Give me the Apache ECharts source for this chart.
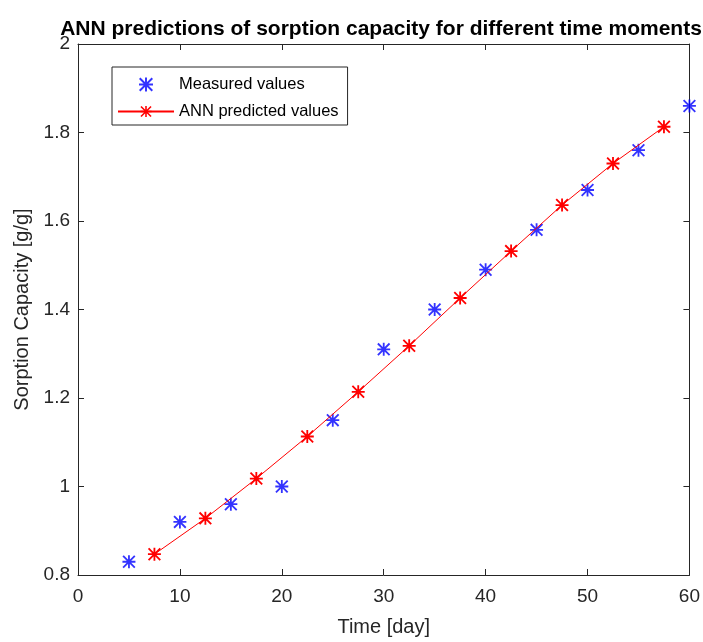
<!DOCTYPE html>
<html>
<head>
<meta charset="utf-8">
<title>ANN predictions of sorption capacity</title>
<script src="https://cdn.jsdelivr.net/npm/echarts@6/dist/echarts.min.js"></script>
<style>
  html, body { margin: 0; padding: 0; background: #fff; }
  #chart { width: 703px; height: 642px; }
</style>
</head>
<body>
<div id="chart"></div>
<script>
// measured values (every 5 days)
const measuredDays = [5, 10, 15, 20, 25, 30, 35, 40, 45, 50, 55, 60];
const measuredValues = [0.83, 0.92, 0.96, 1.00, 1.15, 1.31, 1.40, 1.49, 1.58, 1.67, 1.76, 1.86];

// ANN predictions (mid points)
const predictedDays = [7.5, 12.5, 17.5, 22.5, 27.5, 32.5, 37.5, 42.5, 47.5, 52.5, 57.5];
const predictedValues = [0.847, 0.928, 1.018, 1.113, 1.214, 1.318, 1.426, 1.532, 1.636, 1.730, 1.813];

const FONT = '"Liberation Sans", Arial, sans-serif';
const AXIS_COLOR = '#262626';

// asterisk marker (like matlab '*')
const STAR = 'path://M8.6 0L11.4 0L11.4 20L8.6 20Z M0 8.6L20 8.6L20 11.4L0 11.4Z ' +
  'M2 0L20 18L18 20L0 2Z M18 0L20 2L2 20L0 18Z';

const pairs = (xs, ys) => xs.map((x, i) => [x, ys[i]]);

const chart = echarts.init(document.getElementById('chart'));

const baseAxis = {
  axisLine: { show: true, onZero: false, lineStyle: { color: AXIS_COLOR, width: 1 } },
  axisTick: { show: true, inside: true, length: 6, lineStyle: { color: AXIS_COLOR } },
  splitLine: { show: false },
};

chart.setOption({
  animation: false,
  backgroundColor: '#fff',
  title: {
    text: 'ANN predictions of sorption capacity for different time moments',
    left: 376,
    textAlign: 'center',
    top: 14,
    textStyle: { fontFamily: FONT, fontWeight: 'bold', fontSize: 21, color: '#000' }
  },
  legend: {
    orient: 'vertical',
    left: 112,
    top: 67,
    padding: [9, 9, 5, 5],
    itemGap: 10,
    itemWidth: 56,
    itemHeight: 14,
    borderColor: '#262626',
    borderWidth: 1,
    textStyle: { fontFamily: FONT, fontSize: 16.5, color: '#000' },
    data: ['Measured values', 'ANN predicted values']
  },
  grid: { left: 78, right: 13, top: 44, bottom: 65, containLabel: false },
  xAxis: [
    Object.assign({}, baseAxis, {
      type: 'value', min: 0, max: 60, interval: 10, position: 'bottom',
      name: 'Time [day]', nameLocation: 'middle', nameGap: 42,
      nameTextStyle: { fontFamily: FONT, fontSize: 20, color: AXIS_COLOR },
      axisLabel: { fontFamily: FONT, fontSize: 19, color: AXIS_COLOR, margin: 12 }
    }),
    Object.assign({}, baseAxis, {
      type: 'value', min: 0, max: 60, interval: 10, position: 'top',
      axisLabel: { show: false }
    })
  ],
  yAxis: [
    Object.assign({}, baseAxis, {
      type: 'value', min: 0.8, max: 2, interval: 0.2, position: 'left',
      name: 'Sorption Capacity [g/g]', nameLocation: 'middle', nameGap: 42,
      nameTextStyle: { fontFamily: FONT, fontSize: 20, color: AXIS_COLOR },
      axisLabel: {
        fontFamily: FONT, fontSize: 19, color: AXIS_COLOR, margin: 8,
        formatter: v => String(+v.toFixed(1))
      }
    }),
    Object.assign({}, baseAxis, {
      type: 'value', min: 0.8, max: 2, interval: 0.2, position: 'right',
      axisLabel: { show: false }
    })
  ],
  series: [
    {
      name: 'Measured values',
      type: 'scatter',
      symbol: STAR,
      symbolSize: 13,
      itemStyle: { color: '#0000ff' },
      data: pairs(measuredDays, measuredValues)
    },
    {
      name: 'ANN predicted values',
      type: 'line',
      symbol: STAR,
      symbolSize: 13,
      showAllSymbol: true,
      lineStyle: { color: '#ff0000', width: 1 },
      itemStyle: { color: '#ff0000' },
      data: pairs(predictedDays, predictedValues)
    }
  ]
});
</script>
</body>
</html>
